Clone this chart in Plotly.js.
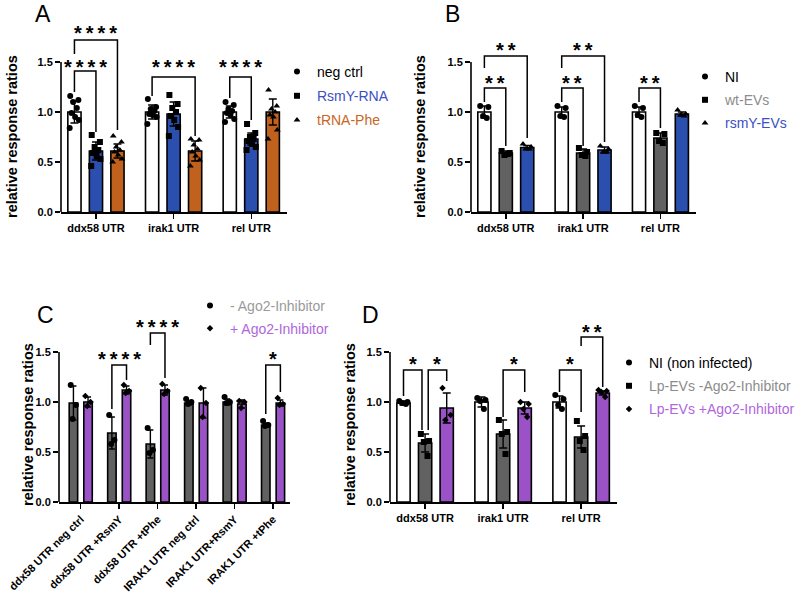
<!DOCTYPE html>
<html><head><meta charset="utf-8">
<script src="https://cdn.plot.ly/plotly-3.0.1.min.js"></script>
<style>html,body{margin:0;padding:0;background:#fff}#chart{width:798px;height:593px}</style>
</head><body><div id="chart"></div>
<script>
// ---------------- DATA ----------------
const catsABD = ['ddx58 UTR', 'irak1 UTR', 'rel UTR'];
const catsC = ['ddx58 UTR neg ctrl', 'ddx58 UTR +RsmY', 'ddx58 UTR +tPhe', 'IRAK1 UTR neg ctrl', 'IRAK1 UTR+RsmY', 'IRAK1 UTR +tPhe'];

// Panel A
const A_negMean = [1.00, 1.00, 1.00];
const A_negSD = [0.11, 0.07, 0.06];
const A_negPts = [[1.16,1.12,1.10,1.04,0.99,0.95,0.92,0.84],[1.13,1.05,1.03,1.01,0.98,0.97,0.95,0.88],[1.10,1.07,1.03,1.01,0.99,0.97,0.93,0.90]];
const A_rsmyMean = [0.61, 0.98, 0.73];
const A_rsmySD = [0.09, 0.12, 0.06];
const A_rsmyPts = [[0.77,0.70,0.65,0.62,0.59,0.56,0.53,0.46],[1.17,1.08,1.04,1.00,0.96,0.92,0.85,0.76],[0.88,0.79,0.75,0.73,0.71,0.68,0.65,0.62]];
const A_trnaMean = [0.61, 0.61, 1.00];
const A_trnaSD = [0.07, 0.10, 0.13];
const A_trnaPts = [[0.76,0.70,0.65,0.62,0.60,0.57,0.53,0.50],[0.73,0.72,0.67,0.63,0.60,0.56,0.52,0.46],[1.22,1.06,1.03,1.00,0.97,0.95,0.82,0.73]];

// Panel B
const B_niMean = [1.00, 1.00, 1.00];
const B_niSD = [0.06, 0.05, 0.05];
const B_niPts = [[1.06,1.05,0.96,0.94],[1.06,1.04,0.96,0.95],[1.06,1.04,0.97,0.95]];
const B_wtMean = [0.59, 0.59, 0.74];
const B_wtSD = [0.02, 0.04, 0.05];
const B_wtPts = [[0.61,0.59,0.57,0.58],[0.64,0.60,0.57,0.56],[0.79,0.78,0.71,0.69]];
const B_rsmyMean = [0.645, 0.62, 0.98];
const B_rsmySD = [0.02, 0.03, 0.02];
const B_rsmyPts = [[0.68,0.65,0.63,0.63],[0.66,0.63,0.60,0.60],[1.02,0.98,0.97,0.96]];

// Panel C
const C_minusMean = [0.99, 0.69, 0.58, 0.99, 1.00, 0.77];
const C_minusSD = [0.17, 0.16, 0.14, 0.02, 0.03, 0.02];
const C_minusPts = [[1.17,0.97,0.83],[0.87,0.62,0.58],[0.74,0.52,0.49],[1.03,1.00,0.98],[1.05,1.00,0.99],[0.81,0.77,0.76]];
const C_plusMean = [1.00, 1.12, 1.12, 0.99, 0.98, 0.99];
const C_plusSD = [0.05, 0.04, 0.05, 0.15, 0.04, 0.03];
const C_plusPts = [[1.06,1.00,0.96],[1.17,1.11,1.09],[1.18,1.11,1.08],[1.14,0.99,0.85],[1.01,1.00,0.94],[1.04,0.98,0.97]];

// Panel D
const D_niMean = [0.99, 1.00, 1.00];
const D_niSD = [0.02, 0.05, 0.06];
const D_niPts = [[1.01,1.00,0.99,0.98],[1.04,1.02,1.01,0.93],[1.07,1.03,0.97,0.93]];
const D_lpmMean = [0.59, 0.68, 0.65];
const D_lpmSD = [0.09, 0.14, 0.11];
const D_lpmPts = [[0.68,0.61,0.60,0.46],[0.82,0.70,0.68,0.48],[0.81,0.66,0.61,0.52]];
const D_lppMean = [0.94, 0.94, 1.09];
const D_lppSD = [0.15, 0.06, 0.02];
const D_lppPts = [[1.14,0.87,0.82],[1.00,0.98,0.93,0.85],[1.12,1.11,1.10,1.05]];

// significance brackets: group, bar a, bar b, top, leg-a bottom, leg-b bottom, label height, label
const A_sig = [[0,0,1,1.41,1.20,0.80,1.51,'****'],[0,0,2,1.72,1.58,0.82,1.85,'****'],[1,0,2,1.35,1.16,0.76,1.51,'****'],[2,0,1,1.35,1.14,0.92,1.51,'****']];
const B_sig = [[0,0,1,1.24,1.10,0.66,1.35,'**'],[0,0,2,1.56,1.44,0.74,1.68,'**'],[1,0,1,1.24,1.10,0.66,1.35,'**'],[1,0,2,1.56,1.44,0.70,1.68,'**'],[2,0,1,1.24,1.10,0.84,1.35,'**']];
const C_sig = [[1,0,1,1.37,0.93,1.22,1.49,'****'],[2,0,1,1.69,1.57,1.24,1.81,'****'],[5,0,1,1.37,0.88,1.10,1.49,'*']];
const D_sig = [[0,0,1,1.32,1.06,0.72,1.44,'*'],[0,1,2,1.32,0.72,1.21,1.44,'*'],[1,1,2,1.32,0.85,1.10,1.44,'*'],[2,0,1,1.32,1.10,0.90,1.44,'*'],[2,1,2,1.65,1.56,1.15,1.76,'**']];

// ---------------- STYLE / LAYOUT HELPERS ----------------
const W = 798, H = 593;
const FONT = 'Liberation Sans, Arial, Helvetica, sans-serif';
const JIT = [-0.32, 0.30, -0.10, 0.18, -0.22, 0.05, 0.34, -0.36];
const STAR_SHIFT = 0.06;
const traces = [], shapes = [], annotations = [];
const layout = {
  width: W, height: H, margin: {l:0, r:0, t:0, b:0, autoexpand:false},
  paper_bgcolor: '#fff', plot_bgcolor: 'rgba(0,0,0,0)', showlegend: true,
  font: {family: FONT, color: '#000'}
};

function panel(p) {
  const xa = p.xa, ya = p.ya;
  p.series.forEach((s, k) => {
    const off = p.offsets[k];
    traces.push({
      type: 'bar', xaxis: xa, yaxis: ya,
      x: s.mean.map((_, g) => g + off), y: s.mean, width: p.width,
      marker: {color: s.color, line: {color: '#000', width: 1.6}},
      error_y: {type: 'data', array: s.sd, visible: true, color: '#000', thickness: 1.4, width: p.cap},
      showlegend: false, hoverinfo: 'skip'
    });
  });
  p.series.forEach((s, k) => {
    const off = p.offsets[k];
    const xs = [], ys = [];
    s.pts.forEach((arr, g) => arr.forEach((v, i) => { xs.push(g + off + JIT[i] * p.width); ys.push(v); }));
    traces.push({
      type: 'scatter', mode: 'markers', xaxis: xa, yaxis: ya, x: xs, y: ys,
      marker: {color: '#000', size: s.msize || 6, symbol: s.symbol},
      name: '<span style="color:' + s.tcolor + '">' + s.name + '</span>',
      legend: p.legend, legendgroup: p.legend + '_' + k, showlegend: true, hoverinfo: 'skip', cliponaxis: false
    });
  });
  p.sig.forEach(b => {
    const [g, a, bb, top, la, lb, sy, txt] = b;
    const na = (b[8] || 0), nb = (b[9] || 0);
    const x1 = g + p.offsets[a] + na, x2 = g + p.offsets[bb] + nb;
    traces.push({type: 'scatter', mode: 'lines', xaxis: xa, yaxis: ya,
      x: [x1, x1, x2, x2], y: [la, top, top, lb], line: {color: '#000', width: 1.5},
      showlegend: false, hoverinfo: 'skip', cliponaxis: false});
    annotations.push({xref: xa, yref: ya, x: (x1 + x2) / 2, y: sy - STAR_SHIFT, text: '<b>' + txt.split('').join('\u2009') + '</b>',
      showarrow: false, xanchor: 'center', yanchor: 'middle', font: {size: 20, family: FONT, color: '#000'}});
  });
  const xk = xa === 'x' ? 'xaxis' : 'xaxis' + xa.slice(1);
  const yk = ya === 'y' ? 'yaxis' : 'yaxis' + ya.slice(1);
  layout[xk] = {
    domain: [p.left / W, p.right / W], range: p.xrange, anchor: ya,
    tickmode: 'array', tickvals: p.cats.map((_, i) => i), ticktext: p.cats,
    tickangle: p.tickangle || 0,
    showline: true, linecolor: '#000', linewidth: 1.6, ticks: 'outside', ticklen: 5, tickwidth: 1.5, tickcolor: '#000',
    showgrid: false, zeroline: false, fixedrange: true,
    tickfont: {family: FONT, size: 11, weight: 700, color: '#000'}
  };
  layout[yk] = {
    domain: [1 - p.bottom / H, 1 - p.top / H], range: [0, 2.0], anchor: xa,
    tickmode: 'array', tickvals: [0, 0.5, 1.0, 1.5], ticktext: ['0.0', '0.5', '1.0', '1.5'],
    showline: false, ticks: 'outside', ticklen: 5, tickwidth: 1.5, tickcolor: '#000',
    showgrid: false, zeroline: false, fixedrange: true,
    tickfont: {family: FONT, size: 11, weight: 700, color: '#000'}
  };
  shapes.push({type: 'line', xref: xa + ' domain', yref: ya, x0: 0, x1: 0, y0: 0, y1: 1.5, line: {color: '#000', width: 1.6}});
  layout[p.legend] = {x: p.legX / W, y: 1 - p.legY / H, xanchor: 'left', yanchor: 'top', bgcolor: 'rgba(0,0,0,0)',
    borderwidth: 0, tracegroupgap: p.legGap, font: {family: FONT, size: 14, color: '#000'}, traceorder: 'grouped'};
  annotations.push({xref: 'paper', yref: 'paper', x: p.titleX / W, y: 1 - p.titleY / H, text: '<b>relative response ratios</b>',
    textangle: -90, showarrow: false, xanchor: 'center', yanchor: 'middle', font: {family: FONT, size: 14.5, color: '#000'}});
  annotations.push({xref: 'paper', yref: 'paper', x: p.labX / W, y: 1 - p.labY / H, text: p.label,
    showarrow: false, xanchor: 'center', yanchor: 'middle', font: {family: FONT, size: 23, color: '#000'}});
}

const WHITE = '#ffffff', BLUE = '#2b4fae', ORANGE = '#c0621d', GREY = '#616161', PURPLE = '#9a52c6';
const off3 = [-0.277, 0, 0.277];

panel({xa: 'x', ya: 'y', cats: catsABD, left: 61, right: 287, top: 12, bottom: 212, xrange: [-0.45, 2.46],
  offsets: off3, width: 0.17, cap: 4, legend: 'legend', legX: 277, legY: 56, legGap: 3,
  titleX: 12, titleY: 137, labX: 43, labY: 14, label: 'A', sig: A_sig,
  series: [
    {mean: A_negMean, sd: A_negSD, pts: A_negPts, color: WHITE, symbol: 'circle', name: 'neg ctrl', tcolor: '#000'},
    {mean: A_rsmyMean, sd: A_rsmySD, pts: A_rsmyPts, color: BLUE, symbol: 'square', name: 'RsmY-RNA', tcolor: '#3a4fc4'},
    {mean: A_trnaMean, sd: A_trnaSD, pts: A_trnaPts, color: ORANGE, symbol: 'triangle-up', name: 'tRNA-Phe', tcolor: '#c8651e'}
  ]});

panel({xa: 'x2', ya: 'y2', cats: catsABD, left: 471, right: 696, top: 12, bottom: 212, xrange: [-0.45, 2.46],
  offsets: off3, width: 0.17, cap: 4, legend: 'legend2', legX: 685, legY: 61, legGap: 2,
  titleX: 420, titleY: 137, labX: 452, labY: 14, label: 'B', sig: B_sig,
  series: [
    {mean: B_niMean, sd: B_niSD, pts: B_niPts, color: WHITE, symbol: 'circle', name: 'NI', tcolor: '#000'},
    {mean: B_wtMean, sd: B_wtSD, pts: B_wtPts, color: GREY, symbol: 'square', name: 'wt-EVs', tcolor: '#8c8c8c'},
    {mean: B_rsmyMean, sd: B_rsmySD, pts: B_rsmyPts, color: BLUE, symbol: 'triangle-up', name: 'rsmY-EVs', tcolor: '#3a4fc4'}
  ]});

panel({xa: 'x3', ya: 'y3', cats: catsC, left: 59, right: 290, top: 302, bottom: 502, xrange: [-0.565, 5.44],
  offsets: [-0.19, 0.19], width: 0.22, cap: 3, legend: 'legend3', legX: 190, legY: 290, legGap: 1.5, tickangle: -45,
  titleX: 28, titleY: 425, labX: 45, labY: 315, label: 'C', sig: C_sig,
  series: [
    {mean: C_minusMean, sd: C_minusSD, pts: C_minusPts, color: GREY, symbol: 'circle', name: '- Ago2-Inhibitor', tcolor: '#9a9a9a'},
    {mean: C_plusMean, sd: C_plusSD, pts: C_plusPts, color: PURPLE, symbol: 'diamond', msize: 5, name: '+ Ago2-Inhibitor', tcolor: '#b066dc'}
  ]});

const D_sigN = D_sig.map((b, i) => i === 0 ? b.concat([0, -0.04]) : (i === 1 ? b.concat([0.04, 0]) : b));
panel({xa: 'x4', ya: 'y4', cats: catsABD, left: 390, right: 617, top: 302, bottom: 502, xrange: [-0.45, 2.46],
  offsets: off3, width: 0.17, cap: 4, legend: 'legend4', legX: 609, legY: 347, legGap: 2,
  titleX: 350, titleY: 425, labX: 370, labY: 315, label: 'D', sig: D_sigN,
  series: [
    {mean: D_niMean, sd: D_niSD, pts: D_niPts, color: WHITE, symbol: 'circle', name: 'NI (non infected)', tcolor: '#000'},
    {mean: D_lpmMean, sd: D_lpmSD, pts: D_lpmPts, color: GREY, symbol: 'square', name: 'Lp-EVs -Ago2-Inhibitor', tcolor: '#8c8c8c'},
    {mean: D_lppMean, sd: D_lppSD, pts: D_lppPts, color: PURPLE, symbol: 'diamond', msize: 5, name: 'Lp-EVs +Ago2-Inhibitor', tcolor: '#b066dc'}
  ]});

layout.shapes = shapes;
layout.annotations = annotations;
layout.bargap = 0;
layout.barmode = 'overlay';
Plotly.newPlot('chart', traces, layout, {displayModeBar: false, staticPlot: true});
</script></body></html>
